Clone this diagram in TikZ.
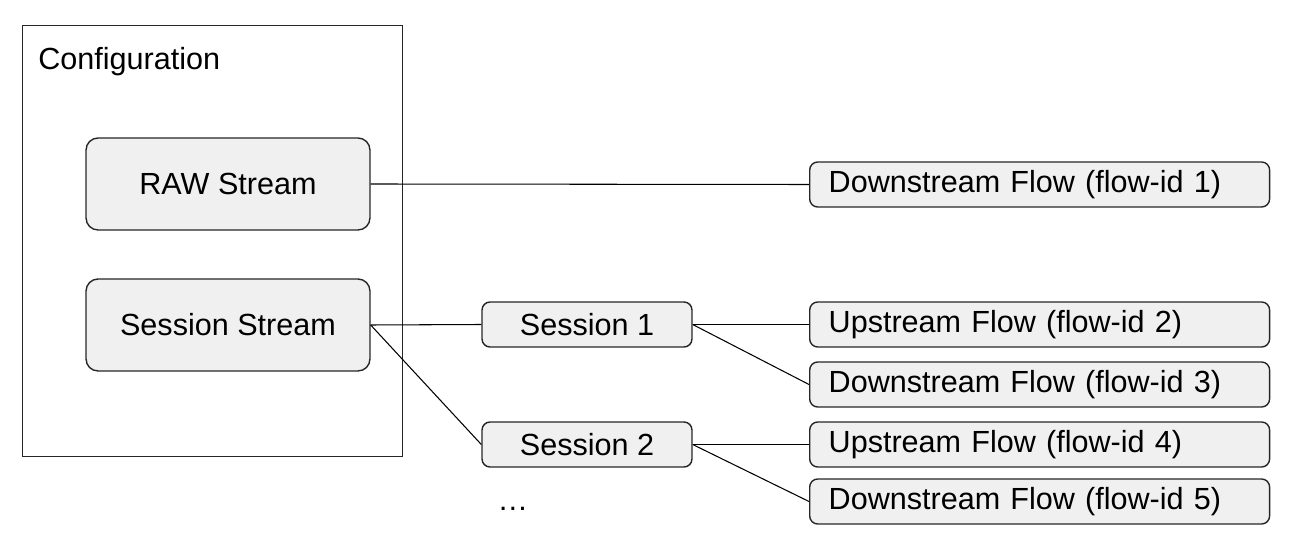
\documentclass[tikz,border=0pt]{standalone}
\usepackage{fontspec}
\setmainfont{Liberation Sans}

\begin{document}
\begin{tikzpicture}[x=0.02cm,y=-0.02cm,font=\fontsize{17.4}{21}\selectfont,
    box/.style={draw=black!85,fill=gray!12,line width=0.8pt},
    stream/.style={box,rounded corners=0.24cm,minimum width=5.68cm,minimum height=1.84cm},
    session/.style={box,rounded corners=0.16cm,minimum width=4.2cm,minimum height=0.9cm},
    flow/.style={box,rounded corners=0.16cm,anchor=west,inner xsep=0.38cm,
      text width=8.44cm,align=left,minimum height=0.9cm},
    link/.style={line width=0.6pt}]
  \useasboundingbox (0,0) rectangle (1296,550);
  \node[draw=black!85,line width=0.8pt,anchor=north west,minimum width=7.6cm,
    minimum height=8.62cm] (config) at (22,25) {};
  \node[anchor=base west,inner sep=0pt] (configlabel) at (38,70) {Configuration};
  \node[stream] (raw) at (228,184) {RAW Stream};
  \node[stream] (sess) at (228,325) {Session Stream};
  \node[session] (s1) at (587,324.5) {Session 1};
  \node[session] (s2) at (587,444.5) {Session 2};
  \node[anchor=base] (more) at (513,511) {\ldots};
  \node[flow] (f1) at (809,184.5) {Downstream Flow (flow-id 1)};
  \node[flow] (f2) at (809,324.5) {Upstream Flow (flow-id 2)};
  \node[flow] (f3) at (809,384.5) {Downstream Flow (flow-id 3)};
  \node[flow] (f4) at (809,444.5) {Upstream Flow (flow-id 4)};
  \node[flow] (f5) at (809,501.5) {Downstream Flow (flow-id 5)};
  \draw[link] (raw.east) -- (f1.west);
  \draw[link] (sess.east) -- (s1.west);
  \draw[link] (sess.east) -- (s2.west);
  \draw[link] (s1.east) -- (f2.west);
  \draw[link] (s1.east) -- (f3.west);
  \draw[link] (s2.east) -- (f4.west);
  \draw[link] (s2.east) -- (f5.west);
\end{tikzpicture}
\end{document}
